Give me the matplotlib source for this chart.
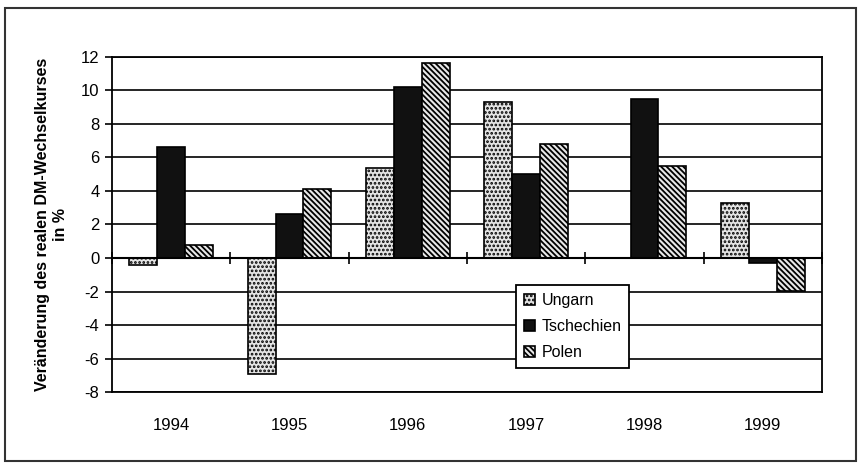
import numpy as np
import matplotlib.pyplot as plt
from matplotlib.patches import Rectangle

plt.rcParams['font.family'] = ['Liberation Sans', 'DejaVu Sans']
plt.rcParams['axes.unicode_minus'] = False
plt.rcParams['hatch.linewidth'] = 1.3

years = ['1994', '1995', '1996', '1997', '1998', '1999']
ungarn = [-0.4, -6.9, 5.4, 9.3, 0.0, 3.3]
tschechien = [6.65, 2.65, 10.2, 5.0, 9.5, -0.3]
polen = [0.8, 4.1, 11.65, 6.8, 5.5, -1.95]

fig = plt.figure(figsize=(8.58, 4.63), dpi=100)
ax = fig.add_axes([0.1305, 0.1533, 0.8275, 0.7237])

x = np.arange(len(years))
w = 0.235
ax.bar(x - w, ungarn, w, facecolor='#e4e4e4', edgecolor='black', hatch='....', linewidth=1.2, label='Ungarn', zorder=3)
ax.bar(x, tschechien, w, facecolor='#111111', edgecolor='black', linewidth=1.2, label='Tschechien', zorder=3)
ax.bar(x + w, polen, w, facecolor='#e8e8e8', edgecolor='black', hatch='\\\\\\\\\\\\', linewidth=1.2, label='Polen', zorder=3)

ax.set_xlim(-0.5, len(years) - 0.5)
ax.set_ylim(-8, 12)
ax.set_yticks(np.arange(-8, 13, 2))
ax.yaxis.grid(True, color='black', linewidth=1.2, zorder=0)
ax.set_axisbelow(True)

# category axis sits at zero, ticks crossing between the groups
ax.spines['bottom'].set_position(('data', 0))
ax.spines['bottom'].set_linewidth(1.5)
ax.spines['bottom'].set_zorder(4)
ax.set_xticks(np.arange(len(years) + 1) - 0.5)
ax.tick_params(axis='x', direction='inout', length=8, width=1.2, labelbottom=False)
for s in ['left', 'top', 'right']:
    ax.spines[s].set_linewidth(1.3)
ax.tick_params(axis='y', direction='out', length=5, width=1.2, labelsize=12, pad=4)

sec = ax.secondary_xaxis(0)
sec.set_xticks(x)
sec.set_xticklabels(years, fontsize=12)
sec.tick_params(length=0, pad=19)
sec.spines['bottom'].set_linewidth(1.3)

ax.set_ylabel('Veränderung des realen DM-Wechselkurses\nin %', fontsize=11.5,
              fontweight='bold', linespacing=1.3, labelpad=9)

leg = ax.legend(loc='upper left', bbox_to_anchor=(0.569, 0.319), fontsize=11.5,
                frameon=True, fancybox=False, edgecolor='black', framealpha=1,
                handlelength=0.7, handleheight=0.7, handletextpad=0.4,
                borderpad=0.5, labelspacing=0.7, borderaxespad=0)
leg.get_frame().set_linewidth(1.3)

fig.patches.append(Rectangle((0.006, 0.004), 0.992, 0.978, transform=fig.transFigure,
                             fill=False, edgecolor='#333333', linewidth=1.5))

fig.savefig('out.png', dpi=100)
